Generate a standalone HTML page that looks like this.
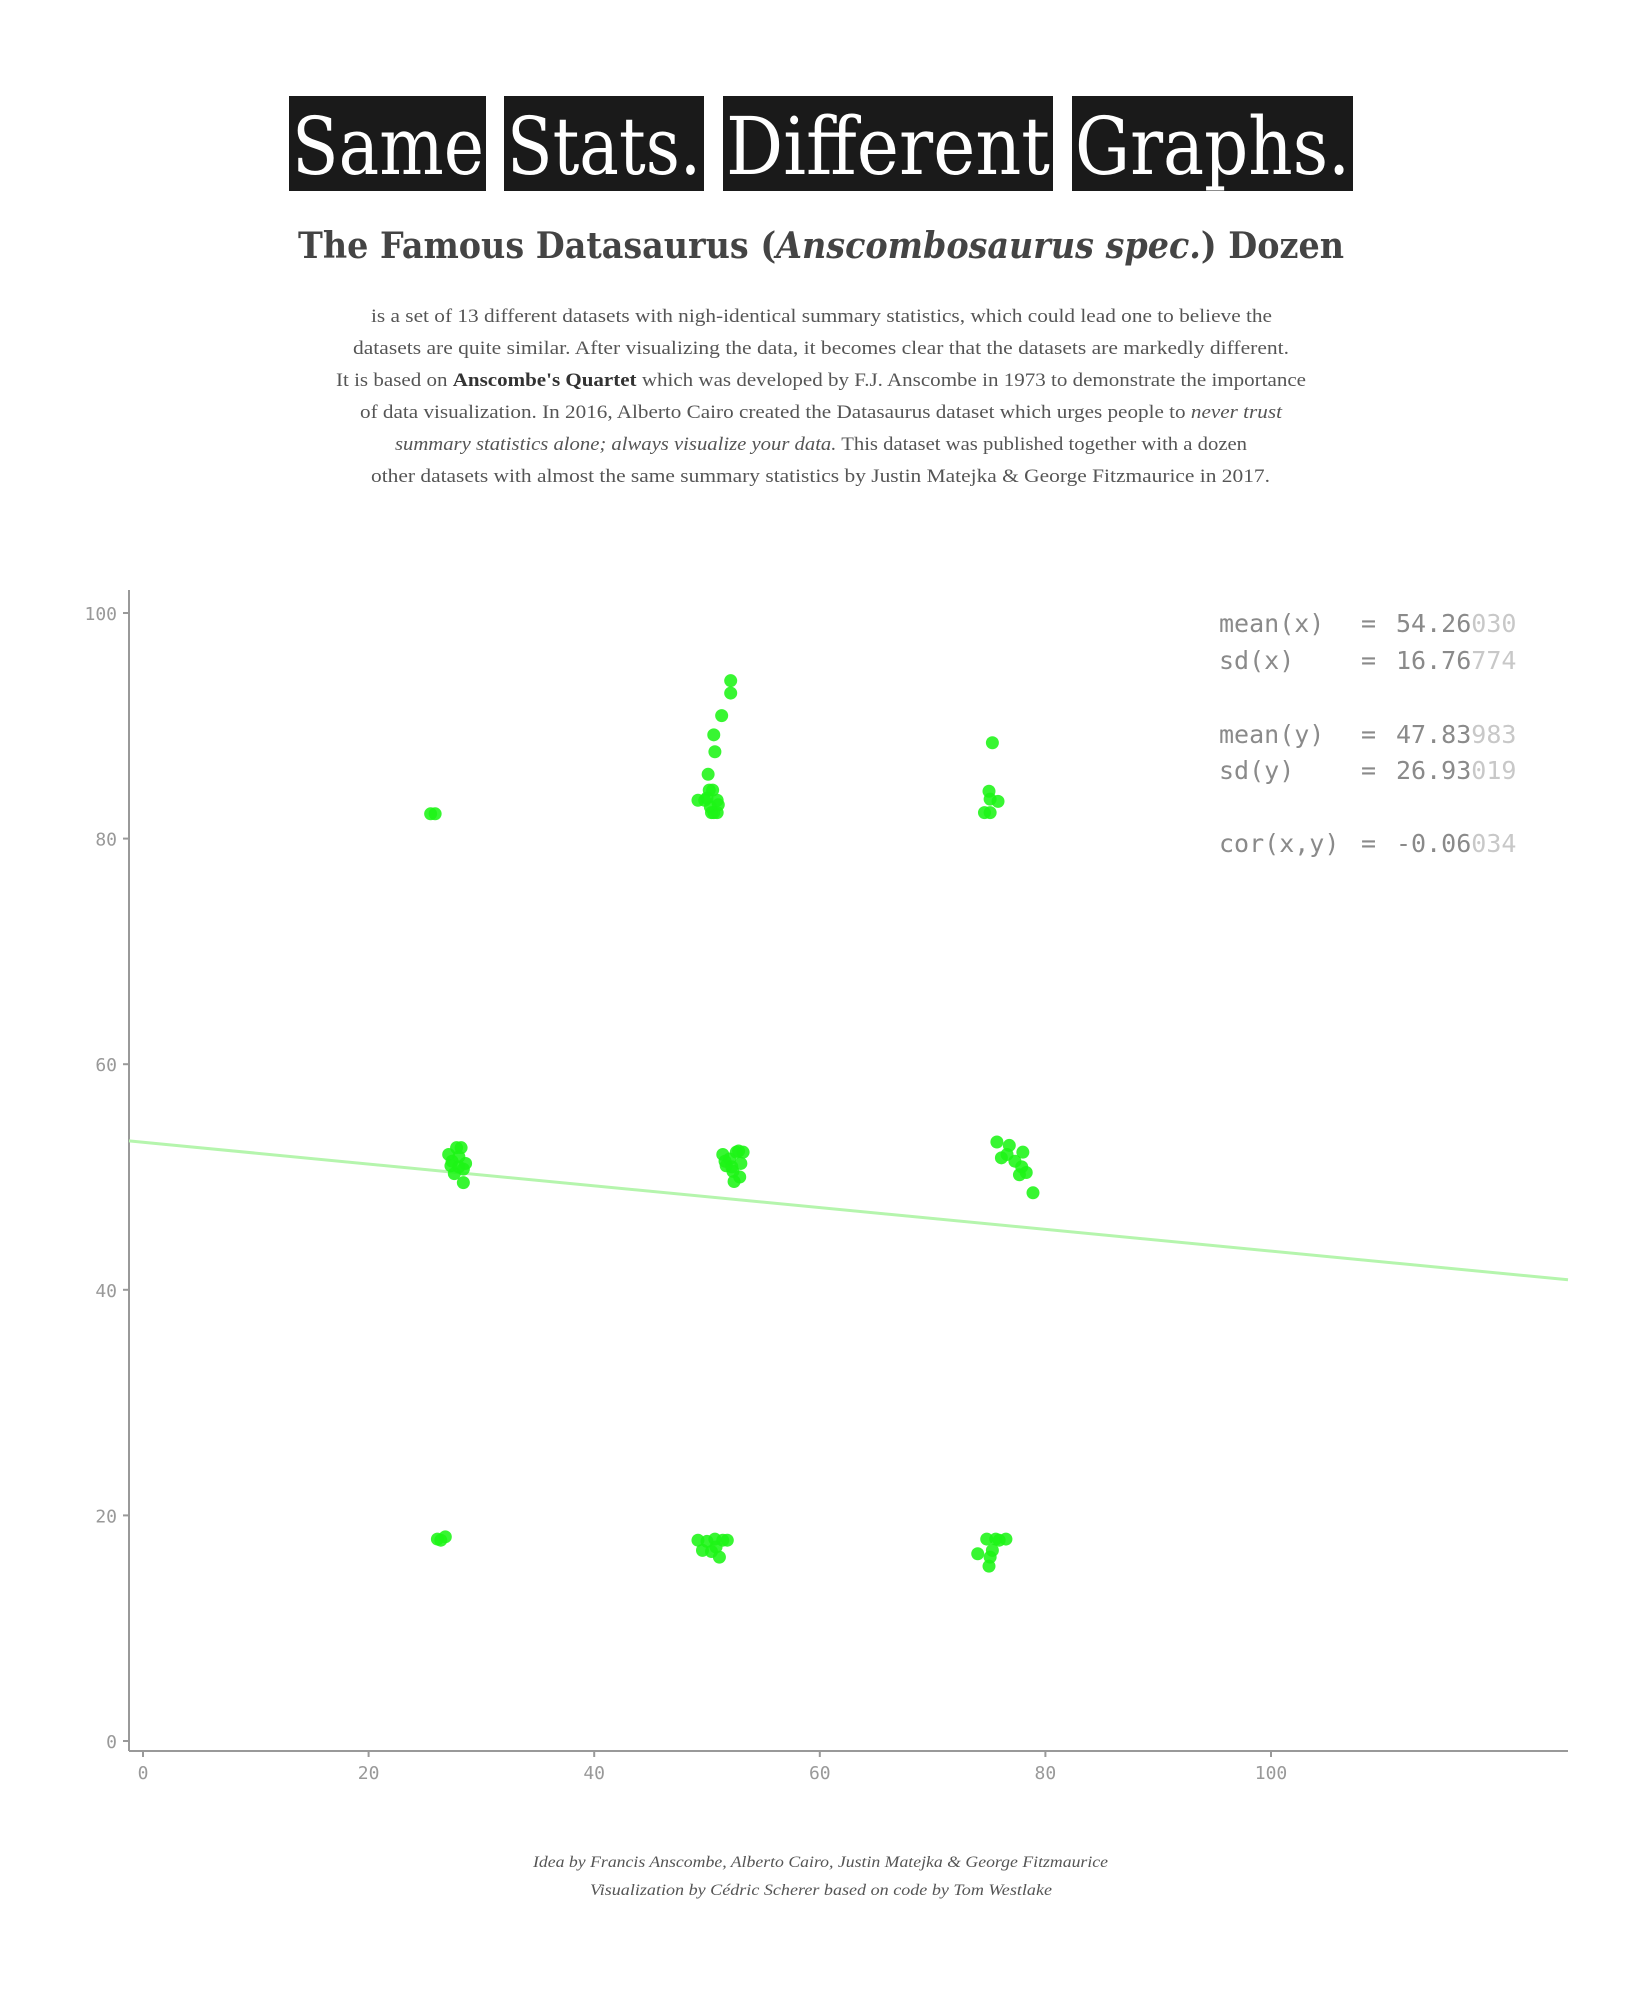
<!DOCTYPE html>
<html><head><meta charset="utf-8"><style>
html,body{margin:0;padding:0;background:#fff;}
svg{display:block;}
</style></head><body>
<svg id="chart" width="1650" height="2000" viewBox="0 0 1650 2000" xmlns="http://www.w3.org/2000/svg">
<g font-family="DejaVu Serif, Liberation Serif, serif" fill="#fff" font-size="80">
<rect x="289" y="96" width="197" height="95" fill="#1a1a1a"/>
<rect x="504" y="96" width="200" height="95" fill="#1a1a1a"/>
<rect x="723" y="96" width="330" height="95" fill="#1a1a1a"/>
<rect x="1072" y="96" width="281" height="95" fill="#1a1a1a"/>
<text x="292" y="174" textLength="192" lengthAdjust="spacingAndGlyphs">Same</text>
<text x="507" y="174" textLength="194" lengthAdjust="spacingAndGlyphs">Stats.</text>
<text x="726" y="174" textLength="324" lengthAdjust="spacingAndGlyphs">Different</text>
<text x="1075" y="174" textLength="275" lengthAdjust="spacingAndGlyphs">Graphs.</text>
</g>
<text x="298" y="258" font-family="DejaVu Serif, Liberation Serif, serif" font-weight="bold" font-size="36" fill="#444" textLength="1046" lengthAdjust="spacingAndGlyphs">The Famous Datasaurus (<tspan font-style="italic">Anscombosaurus spec.</tspan>) Dozen</text>
<g font-family="Liberation Serif, serif" font-size="19" fill="#555">
<text x="371" y="322" textLength="901" lengthAdjust="spacingAndGlyphs">is a set of 13 different datasets with nigh-identical summary statistics, which could lead one to believe the</text>
<text x="353" y="354" textLength="936" lengthAdjust="spacingAndGlyphs">datasets are quite similar. After visualizing the data, it becomes clear that the datasets are markedly different.</text>
<text x="336" y="386" textLength="970" lengthAdjust="spacingAndGlyphs">It is based on <tspan font-weight="bold" fill="#333">Anscombe's Quartet</tspan> which was developed by F.J. Anscombe in 1973 to demonstrate the importance</text>
<text x="360" y="418" textLength="922" lengthAdjust="spacingAndGlyphs">of data visualization. In 2016, Alberto Cairo created the Datasaurus dataset which urges people to <tspan font-style="italic">never trust</tspan></text>
<text x="395" y="450" textLength="852" lengthAdjust="spacingAndGlyphs"><tspan font-style="italic">summary statistics alone; always visualize your data.</tspan> This dataset was published together with a dozen</text>
<text x="371" y="482" textLength="899" lengthAdjust="spacingAndGlyphs">other datasets with almost the same summary statistics by Justin Matejka &amp; George Fitzmaurice in 2017.</text>
</g>
<g id="plot"></g>
<g font-family="DejaVu Sans Mono, Liberation Mono, monospace" font-size="25" fill="#8a8a8a">
<text x="1219" y="632">mean(x)<tspan x="1361">=</tspan><tspan x="1396">54.26</tspan><tspan fill="#c8c8c8">030</tspan></text>
<text x="1219" y="669">sd(x)<tspan x="1361">=</tspan><tspan x="1396">16.76</tspan><tspan fill="#c8c8c8">774</tspan></text>
<text x="1219" y="743">mean(y)<tspan x="1361">=</tspan><tspan x="1396">47.83</tspan><tspan fill="#c8c8c8">983</tspan></text>
<text x="1219" y="779">sd(y)<tspan x="1361">=</tspan><tspan x="1396">26.93</tspan><tspan fill="#c8c8c8">019</tspan></text>
<text x="1219" y="852">cor(x,y)<tspan x="1361">=</tspan><tspan x="1396">-0.06</tspan><tspan fill="#c8c8c8">034</tspan></text>
</g>
<g font-family="Liberation Serif, serif" font-style="italic" font-size="16" fill="#555">
<text x="533" y="1867" textLength="575" lengthAdjust="spacingAndGlyphs">Idea by Francis Anscombe, Alberto Cairo, Justin Matejka &amp; George Fitzmaurice</text>
<text x="590" y="1895" textLength="462" lengthAdjust="spacingAndGlyphs">Visualization by Cédric Scherer based on code by Tom Westlake</text>
</g>
</svg>
<script>
const xTicks = [0, 20, 40, 60, 80, 100];
const yTicks = [0, 20, 40, 60, 80, 100];
const xs = [25.5,25.9,
 52.1,52.1,51.3,50.6,50.7,50.1,50.2,50.5,49.2,49.8,50.9,50.3,50.6,50.9,50.4,51.0,50.0,
 75.3,75.0,75.1,75.8,74.6,75.1,
 27.1,27.8,28.2,27.4,28.0,27.6,28.4,28.4,27.3,28.0,28.6,
 51.4,52.0,52.6,53.2,51.7,52.3,52.9,51.6,52.4,53.0,52.2,52.8,
 75.7,76.8,76.1,77.3,78.0,77.7,78.3,78.9,76.6,77.9,
 26.1,26.8,26.4,
 49.2,50.0,50.7,51.4,51.8,49.6,50.4,51.1,50.8,
 74.0,75.1,75.0,74.8,75.6,76.5,75.3,75.9];
const ys = [82.2,82.2,
 94.0,92.9,90.9,89.2,87.7,85.7,84.3,84.3,83.4,83.4,83.4,82.8,82.3,82.3,82.3,83.0,83.6,
 88.5,84.2,83.5,83.3,82.3,82.3,
 52.0,52.6,52.6,51.4,51.8,50.3,50.7,49.5,51.0,50.9,51.2,
 52.0,51.6,52.2,52.2,51.0,50.5,50.0,51.4,49.6,51.2,50.9,52.3,
 53.1,52.8,51.7,51.4,52.2,50.2,50.4,48.6,52.0,50.9,
 17.9,18.1,17.8,
 17.8,17.7,17.9,17.8,17.8,16.9,16.8,16.3,17.2,
 16.6,16.3,15.5,17.9,17.9,17.9,16.9,17.8];
const regIntercept = 53.08;
const regSlope = -0.0965;

const NS = 'http://www.w3.org/2000/svg';
const plot = document.getElementById('plot');
const X0 = 143, Y0 = 1741, K = 11.28;
const sx = v => X0 + v * K;
const sy = v => Y0 - v * K;
function mk(tag, attrs){ const e = document.createElementNS(NS, tag); for (const k in attrs) e.setAttribute(k, attrs[k]); plot.appendChild(e); return e; }

let a = mk('line', {x1:129, y1:590, x2:129, y2:1751, stroke:'#999', 'stroke-width':2});


a = mk('line', {x1:129, y1:1751, x2:1568, y2:1751, stroke:'#999', 'stroke-width':2});



yTicks.forEach(t => {
  const tk = mk('line', {x1:123, x2:129, y1:sy(t), y2:sy(t), stroke:'#999', 'stroke-width':2});
  
  
  const tx = mk('text', {x:117, y:sy(t)+7, 'text-anchor':'end', 'font-family':'DejaVu Sans Mono, Liberation Mono, monospace', 'font-size':18, fill:'#999'});
  tx.textContent = t;
  
  
});
xTicks.forEach(t => {
  const tk = mk('line', {x1:sx(t), x2:sx(t), y1:1751, y2:1757, stroke:'#999', 'stroke-width':2});
  
  
  const tx = mk('text', {x:sx(t), y:1779, 'text-anchor':'middle', 'font-family':'DejaVu Sans Mono, Liberation Mono, monospace', 'font-size':18, fill:'#999'});
  tx.textContent = t;
  
  
});

const xa = (129 - X0) / K, xb = (1568 - X0) / K;
const reg = mk('line', {x1:sx(xa), y1:sy(regIntercept + regSlope*xa), x2:sx(xb), y2:sy(regIntercept + regSlope*xb), stroke:'#b5f5ad', 'stroke-width':3});



xs.forEach((x, i) => {
  const c = mk('circle', {cx:sx(x), cy:sy(ys[i]), r:6.5, fill:'#1cf516', 'fill-opacity':0.88});
  
  
});
</script>
</body></html>
